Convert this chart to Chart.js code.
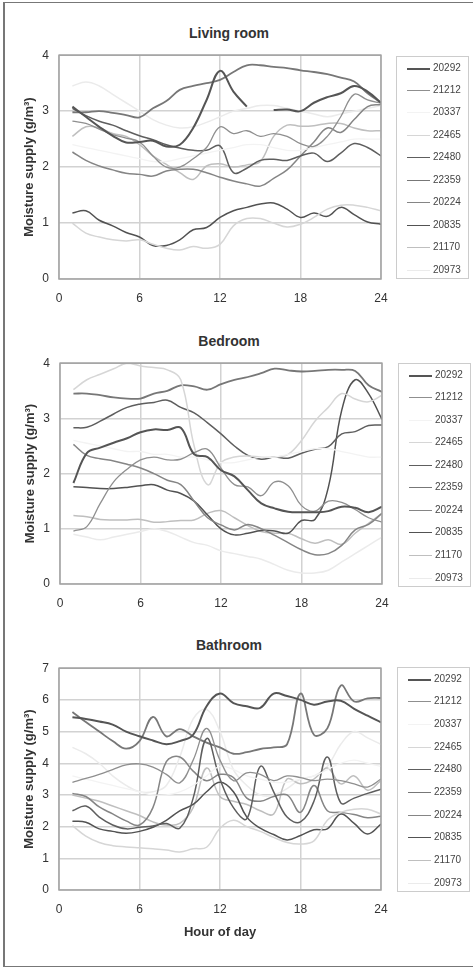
<!DOCTYPE html>
<html>
<head>
<meta charset="utf-8">
<script src="https://cdn.jsdelivr.net/npm/chart.js@4.4.0/dist/chart.umd.min.js"></script>
<style>
body { margin: 0; width: 473px; height: 969px; background: #fff; position: relative; overflow: hidden; font-family: 'Liberation Sans', Arial, sans-serif; }
#frame { position: absolute; left: 3px; top: 2px; width: 480px; height: 965px; border: 1px solid #777; border-left-width: 2px; box-sizing: border-box; }
.panel { position: absolute; }
.title { position: absolute; left: 0; width: 458px; text-align: center; font-weight: bold; font-size: 14px; color: #333; line-height: 16px; }
.legend { position: absolute; border: 1px solid #ccc; box-sizing: border-box; }
.legend .row { position: absolute; left: 0; width: 100%; height: 12px; font-size: 10px; color: #444; line-height: 12px; }
.legend .swatch { position: absolute; left: 10px; width: 23px; top: 6px; }
.legend .lbl { position: absolute; left: 36px; top: 0; }
</style>
</head>
<body>
<div id="frame"></div>
<script>
// hours of day, one reading each hour
const hours = [1, 2, 3, 4, 5, 6, 7, 8, 9, 10, 11, 12, 13, 14, 15, 16, 17, 18, 19, 20, 21, 22, 23, 24];
const sensors = ['20292', '21212', '20337', '22465', '22480', '22359', '20224', '20835', '21170', '20973'];

// Living room
const lr_20292 = [3.08, 2.9, 2.72, 2.56, 2.44, 2.45, 2.47, 2.37, 2.4, 2.7, 3.2, 3.72, 3.35, 3.08, null, 3.02, 3.03, 3.0, 3.15, 3.25, 3.32, 3.45, 3.35, 3.15];
const lr_21212 = [2.82, 2.78, 2.68, 2.58, 2.52, 2.45, 2.2, 2.0, 2.0, 2.15, 2.35, 2.72, 2.6, 2.65, 2.55, 2.6, 2.55, 2.42, 2.37, 2.55, 2.9, 3.3, 3.2, 3.14];
const lr_20337 = [2.4, 2.35, 2.3, 2.25, 2.2, 2.15, 2.1, 2.1, 2.15, 2.2, 2.25, 2.3, 2.35, 2.4, 2.4, 2.35, 2.3, 2.3, 2.35, 2.4, 2.45, 2.5, 2.5, 2.5];
const lr_22465 = [1.0, 0.82, 0.75, 0.7, 0.68, 0.7, 0.62, 0.55, 0.52, 0.58, 0.55, 0.62, 0.95, 1.08, 1.08, 1.0, 0.93, 0.98, 1.1, 1.25, 1.32, 1.32, 1.28, 1.22];
const lr_22480 = [3.05, 2.92, 2.82, 2.75, 2.65, 2.56, 2.49, 2.4, 2.34, 2.3, 2.3, 2.38, 1.9, 1.98, 2.12, 2.14, 2.12, 2.2, 2.25, 2.1, 2.25, 2.42, 2.35, 2.2];
const lr_22359 = [2.98, 2.98, 3.0, 2.97, 2.93, 2.89, 3.05, 3.18, 3.38, 3.45, 3.5, 3.56, 3.7, 3.82, 3.82, 3.79, 3.77, 3.73, 3.7, 3.66, 3.6, 3.53, 3.32, 3.15];
const lr_20224 = [2.27, 2.12, 2.02, 1.95, 1.89, 1.87, 1.84, 1.93, 1.96, 1.96, 1.9, 1.82, 1.75, 1.7, 1.66, 1.8, 1.95, 2.2, 2.45, 2.7, 2.62, 2.85, 3.08, 3.12];
const lr_20835 = [1.18, 1.22, 1.05, 0.95, 0.83, 0.75, 0.6, 0.6, 0.7, 0.88, 0.92, 1.1, 1.22, 1.28, 1.34, 1.36, 1.25, 1.1, 1.18, 1.12, 1.28, 1.15, 1.02, 0.98];
const lr_21170 = [2.55, 2.72, 2.7, 2.6, 2.55, 2.4, 2.2, 2.05, 1.9, 1.78, 2.02, 2.06, 2.0, 2.04, 2.1, 2.55, 2.75, 2.73, 2.74, 2.78, 2.78, 2.7, 2.65, 2.65];
const lr_20973 = [3.45, 3.52, 3.45, 3.3, 3.15, 3.0, 2.85, 2.75, 2.7, 2.72, 2.8, 2.9, 3.0, 3.05, 3.1, 3.1, 3.05, 3.0, 2.95, 2.9, 2.95, 3.0, 3.05, 3.1];

// Bedroom
const br_20292 = [1.83, 2.37, 2.47, 2.56, 2.64, 2.75, 2.8, 2.79, 2.83, 2.35, 2.3, 2.06, 1.95, 1.7, 1.46, 1.37, 1.31, 1.3, 1.3, 1.32, 1.4, 1.38, 1.3, 1.4];
const br_21212 = [0.96, 1.04, 1.46, 1.85, 2.08, 2.25, 2.3, 2.25, 2.26, 2.38, 2.44, 2.1, 1.8, 1.76, 1.6, 1.85, 1.78, 1.42, 1.32, 1.5, 1.48, 1.35, 1.2, 1.12];
const br_20337 = [2.6, 2.55, 2.5, 2.45, 2.4, 2.4, 2.35, 2.35, 2.3, 2.3, 2.25, 2.2, 2.2, 2.25, 2.3, 2.3, 2.35, 2.4, 2.45, 2.45, 2.4, 2.35, 2.3, 2.3];
const br_22465 = [3.52, 3.7, 3.8, 3.9, 4.0, 3.95, 3.92, 3.88, 3.7, 2.5, 1.8, 2.2, 2.3, 2.32, 2.3, 2.3, 2.35, 2.6, 2.95, 3.2, 3.45, 3.35, 3.3, 3.42];
const br_22480 = [2.83, 2.84, 2.95, 3.08, 3.2, 3.26, 3.29, 3.33, 3.2, 3.1, 2.92, 2.72, 2.5, 2.33, 2.26, 2.3, 2.28, 2.37, 2.44, 2.49, 2.72, 2.76, 2.87, 2.88];
const br_22359 = [3.45, 3.45, 3.42, 3.38, 3.36, 3.36, 3.45, 3.5, 3.6, 3.58, 3.52, 3.62, 3.7, 3.75, 3.82, 3.9, 3.87, 3.85, 3.86, 3.88, 3.88, 3.86, 3.6, 3.48];
const br_20224 = [2.53, 2.33, 2.27, 2.23, 2.17, 2.1, 2.0, 1.88, 1.8, 1.5, 1.2, 1.07, 0.98, 1.08, 1.0, 0.88, 0.75, 0.62, 0.53, 0.55, 0.7, 0.98, 1.08, 1.28];
const br_20835 = [1.76, 1.75, 1.73, 1.73, 1.75, 1.78, 1.8, 1.7, 1.64, 1.5, 1.25, 1.0, 0.89, 0.92, 0.97, 0.96, 0.92, 1.15, 1.17, 1.75, 3.15, 3.7, 3.45, 2.98];
const br_21170 = [1.24, 1.22, 1.17, 1.16, 1.16, 1.17, 1.12, 1.13, 1.15, 1.16, 1.28, 1.33, 1.2, 1.06, 0.95, 0.92, 0.92, 0.82, 0.74, 0.8, 0.72, 0.92, 1.1, 1.28];
const br_20973 = [0.9, 0.85, 0.8, 0.85, 0.9, 0.95, 1.0, 0.95, 0.85, 0.75, 0.7, 0.6, 0.55, 0.5, 0.45, 0.35, 0.25, 0.2, 0.2, 0.25, 0.4, 0.55, 0.7, 0.85];

// Bathroom
const ba_20292 = [5.45, 5.4, 5.32, 5.22, 5.0, 4.85, 4.72, 4.6, 4.7, 4.9, 5.8, 6.2, 5.9, 5.8, 5.75, 6.2, 6.12, 6.0, 5.85, 5.95, 5.97, 5.72, 5.5, 5.29];
const ba_21212 = [3.4, 3.52, 3.65, 3.8, 3.95, 3.98, 3.88, 3.65, 3.38, 4.1, 5.1, 4.1, 3.45, 3.7, 3.65, 3.45, 3.6, 3.55, 3.45, 3.5, 3.45, 3.35, 3.25, 3.5];
const ba_20337 = [3.6, 3.5, 3.4, 3.3, 3.2, 3.1, 3.0, 3.0, 3.1, 3.3, 3.6, 3.9, 3.8, 3.6, 3.5, 3.4, 3.4, 3.5, 3.6, 3.8, 4.0, 4.1, 4.0, 3.9];
const ba_22465 = [2.03, 1.7, 1.5, 1.4, 1.36, 1.33, 1.3, 1.26, 1.2, 1.3, 1.35, 1.95, 2.2, 2.0, 1.85, 1.66, 1.5, 1.45, 1.55, 2.2, 2.45, 2.55, 2.55, 2.4];
const ba_22480 = [2.5, 2.65, 2.3, 2.05, 1.93, 1.98, 2.02, 2.1, 1.95, 2.9, 4.78, 3.5, 2.6, 2.25, 3.9, 3.1, 2.3, 2.15, 2.8, 4.2, 2.75, 2.9, 3.05, 3.18];
const ba_22359 = [5.62, 5.3, 5.0, 4.7, 4.46, 4.7, 5.46, 4.85, 5.08, 4.85, 4.65, 4.5, 4.3, 4.35, 4.45, 4.5, 4.6, 6.2, 4.9, 5.1, 6.45, 5.95, 6.05, 6.06];
const ba_20224 = [3.05, 2.95, 2.62, 2.4, 2.18, 2.05, 2.6, 4.05, 4.2, 3.75, 3.45, 3.65, 3.55, 2.9, 2.8, 2.95, 3.0, 2.45, 3.3, 2.5, 2.45, 2.38, 2.28, 2.33];
const ba_20835 = [2.17, 2.14, 1.93, 1.85, 1.79, 1.85, 1.98, 2.2, 2.5, 2.7, 3.1, 3.4, 3.1, 2.3, 1.95, 1.75, 1.58, 1.72, 1.9, 1.93, 2.4, 2.1, 1.77, 2.08];
const ba_21170 = [3.0, 2.9, 2.8, 2.65, 2.5, 2.35, 2.15, 2.05, 2.1, 2.6, 3.85, 2.95, 2.8, 2.7, 2.5, 2.4, 3.5, 3.35, 3.5, 3.85, 3.35, 3.6, 3.15, 3.45];
const ba_20973 = [4.5, 4.3, 4.0, 3.6, 3.3, 3.1, 3.1, 3.3, 4.2, 5.4, 5.7, 5.0, 3.8, 3.3, 3.0, 3.0, 3.2, 3.5, 3.6, 3.9, 4.6, 5.0, 4.8, 4.6];

const lineColors = ['#555555', '#8f8f8f', '#f3f3f3', '#d6d6d6', '#5e5e5e', '#777777', '#858585', '#525252', '#bfbfbf', '#ebebeb'];
const lineWidths = [2, 1.3, 1.3, 1.5, 1.5, 1.8, 1.5, 1.5, 1.5, 1.5];

// top of each canvas sits 17px above the plot (y label overflow + tick padding)
const panels = [
    {title: 'Living room', titleY: 25, left: 0, top: 38, height: 271, ymax: 4, xTitle: false,
     series: [lr_20292, lr_21212, lr_20337, lr_22465, lr_22480, lr_22359, lr_20224, lr_20835, lr_21170, lr_20973],
     legend: {x: 396, y: 56, w: 73, h: 223}},
    {title: 'Bedroom', titleY: 333, left: 1, top: 346, height: 268, ymax: 4, xTitle: false,
     series: [br_20292, br_21212, br_20337, br_22465, br_22480, br_22359, br_20224, br_20835, br_21170, br_20973],
     legend: {x: 398, y: 363, w: 73, h: 224}},
    {title: 'Bathroom', titleY: 637, left: 0, top: 651, height: 299, ymax: 7, xTitle: true,
     series: [ba_20292, ba_21212, ba_20337, ba_22465, ba_22480, ba_22359, ba_20224, ba_20835, ba_21170, ba_20973],
     legend: {x: 397, y: 667, w: 73, h: 225}}
];

const plotBorder = {
    id: 'plotBorder',
    afterDraw(chart) {
        const a = chart.chartArea;
        const ctx = chart.ctx;
        ctx.save();
        ctx.strokeStyle = '#a3a3a3';
        ctx.lineWidth = 1.5;
        ctx.strokeRect(a.left, a.top, a.right - a.left, a.bottom - a.top);
        ctx.restore();
    }
};

const font = 'Liberation Sans, Arial, sans-serif';

panels.forEach((p) => {
    const t = document.createElement('div');
    t.className = 'title';
    t.style.top = p.titleY + 'px';
    t.textContent = p.title;
    document.body.appendChild(t);

    const box = document.createElement('div');
    box.className = 'panel';
    box.style.left = p.left + 'px';
    box.style.top = p.top + 'px';
    const canvas = document.createElement('canvas');
    canvas.width = 400;
    canvas.height = p.height;
    box.appendChild(canvas);
    document.body.appendChild(box);

    const datasets = sensors.map((name, i) => ({
        label: name,
        data: hours.map((h, j) => ({x: h, y: p.series[i][j]})),
        borderColor: lineColors[i],
        borderWidth: lineWidths[i],
        pointRadius: 0,
        tension: 0.4,
        fill: false
    }));

    new Chart(canvas.getContext('2d'), {
        type: 'line',
        data: {datasets: datasets},
        options: {
            responsive: false,
            animation: false,
            layout: {padding: {left: 0, right: 19, top: 0, bottom: 0}},
            plugins: {legend: {display: false}, tooltip: {enabled: false}},
            scales: {
                x: {
                    type: 'linear', min: 0, max: 24,
                    ticks: {stepSize: 6, padding: 12, color: '#333', font: {family: font, size: 12}},
                    grid: {color: '#d2d2d2', lineWidth: 1.5, drawTicks: false},
                    border: {display: false},
                    title: {display: p.xTitle, text: 'Hour of day', color: '#333',
                            font: {family: font, size: 13, weight: 'bold'}, padding: {top: 0, bottom: 10}},
                    afterFit: (axis) => { axis.height = p.xTitle ? 60 : 30; }
                },
                y: {
                    min: 0, max: p.ymax,
                    ticks: {stepSize: 1, padding: 10, color: '#333', font: {family: font, size: 12}},
                    grid: {color: '#d2d2d2', lineWidth: 1.5, drawTicks: false},
                    border: {display: false},
                    title: {display: true, text: 'Moisture supply (g/m³)', color: '#333',
                            font: {family: font, size: 13, weight: 'bold'}, padding: {top: 22, bottom: 0}},
                    afterFit: (axis) => { axis.width = 59; }
                }
            }
        },
        plugins: [plotBorder]
    });

    const leg = document.createElement('div');
    leg.className = 'legend';
    leg.style.left = p.legend.x + 'px';
    leg.style.top = p.legend.y + 'px';
    leg.style.width = p.legend.w + 'px';
    leg.style.height = p.legend.h + 'px';
    const step = (p.legend.h - 21) / 9;
    sensors.forEach((name, i) => {
        const row = document.createElement('div');
        row.className = 'row';
        row.style.top = (4.5 + i * step) + 'px';
        const sw = document.createElement('div');
        sw.className = 'swatch';
        sw.style.borderTop = lineWidths[i] + 'px solid ' + lineColors[i];
        const lbl = document.createElement('span');
        lbl.className = 'lbl';
        lbl.textContent = name;
        row.appendChild(sw);
        row.appendChild(lbl);
        leg.appendChild(row);
    });
    document.body.appendChild(leg);
});
</script>
</body>
</html>
